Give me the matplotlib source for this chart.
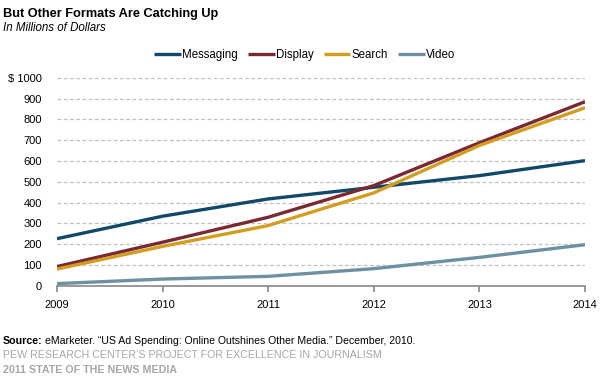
import matplotlib.pyplot as plt

plt.rcParams['font.family'] = ['Liberation Sans', 'DejaVu Sans']

years = [2009, 2010, 2011, 2012, 2013, 2014]
messaging = [227, 335, 418, 474, 530, 602]
display = [93, 210, 330, 482, 688, 885]
search = [81, 190, 290, 447, 675, 856]
video = [11, 33, 46, 83, 137, 198]

series = [
    ('Messaging', messaging, '#11496a'),
    ('Display', display, '#7a2832'),
    ('Search', search, '#d39d1f'),
    ('Video', video, '#6d91a1'),
]

fig = plt.figure(figsize=(6, 3.89), dpi=100)
ax = fig.add_axes([0.095, 0.265, 0.88, 0.535])

for name, vals, col in series:
    ax.plot(years, vals, color=col, lw=2.4, label=name, solid_capstyle='butt')

ax.set_xlim(2009, 2014)
ax.set_ylim(0, 1000)
ax.set_yticks(range(0, 1001, 100))
ax.set_yticklabels(['0'] + [str(v) for v in range(100, 1000, 100)] + ['$ 1000'])
ax.set_xticks(years)
ax.set_xticklabels([str(y) for y in years])

ax.yaxis.grid(True, color='#c0c0c0', ls=(0, (3, 2)), lw=0.9)
ax.set_axisbelow(True)
for s in ['top', 'right', 'left']:
    ax.spines[s].set_visible(False)
ax.spines['bottom'].set_color('#888888')
ax.spines['bottom'].set_linewidth(1.2)
ax.tick_params(axis='y', length=0, labelsize=8, pad=11)
ax.tick_params(axis='x', length=4, color='#888888', width=1.2, labelsize=8, pad=6)

leg = fig.legend(loc='center', bbox_to_anchor=(0.508, 0.858), ncol=4, frameon=False,
                 fontsize=8.3, handlelength=2.3, handletextpad=0.1, columnspacing=0.9)

fig.text(0.005, 0.963, 'But Other Formats Are Catching Up', fontsize=9.2, fontweight='bold',
         va='center')
fig.text(0.005, 0.927, 'In Millions of Dollars', fontsize=8.3, style='italic', va='center')

fig.text(0.005, 0.123, 'Source:', fontsize=7.7, fontweight='bold', va='center')
fig.text(0.075, 0.123, 'eMarketer. \u201cUS Ad Spending: Online Outshines Other Media.\u201d December, 2010.',
         fontsize=7.6, va='center')
fig.text(0.005, 0.087, 'PEW RESEARCH CENTER\u2019S PROJECT FOR EXCELLENCE IN JOURNALISM',
         fontsize=7.7, color='#a6a6a6', va='center')
fig.text(0.005, 0.050, '2011 STATE OF THE NEWS MEDIA', fontsize=7.7, fontweight='bold',
         color='#a6a6a6', va='center')

fig.savefig('out.png', dpi=100)
